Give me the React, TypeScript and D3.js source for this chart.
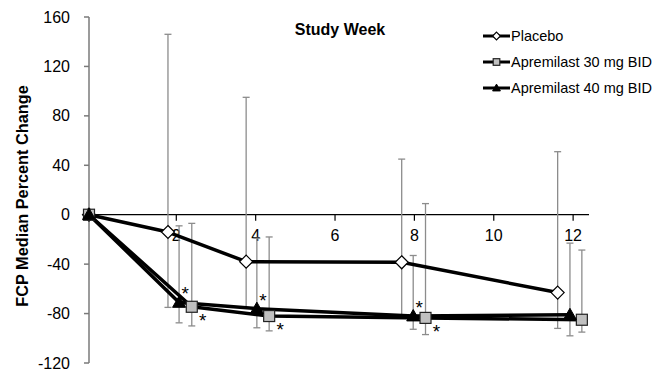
import React from "react";
import * as d3 from "d3";

// Study weeks (slightly offset per arm so error bars don't overlap)
const placeboWeeks = [-0.2, 1.79, 3.76, 7.68, 11.61];
const placeboMedian = [0, -14, -38, -38.5, -63];
const placeboLow: (number | null)[] = [null, -75, -75, -82, -92];
const placeboHigh: (number | null)[] = [null, 146, 95, 45, 51];

const apr30Weeks = [-0.2, 2.39, 4.34, 8.28, 12.22];
const apr30Median = [0, -74.5, -82, -83.5, -85];
const apr30Low: (number | null)[] = [null, -90, -94, -97, -95];
const apr30High: (number | null)[] = [null, -7, -18, 9, -28.6];
const apr30Sig = [false, true, true, true, false];

const apr40Weeks = [-0.2, 2.07, 4.03, 7.97, 11.92];
const apr40Median = [0, -71, -76, -82, -81];
const apr40Low: (number | null)[] = [null, -87.5, -91.5, -92.7, -98];
const apr40High: (number | null)[] = [null, -9, -19, -33, -23];
const apr40Sig = [false, true, true, true, false];

const xTicks = [2, 4, 6, 8, 10, 12];
const yTicks = [160, 120, 80, 40, 0, -40, -80, -120];

const legendLabels = ["Placebo", "Apremilast 30 mg BID", "Apremilast 40 mg BID"];

const FONT = "'Liberation Sans', Arial, sans-serif";

type Series = {
  name: string;
  weeks: number[];
  median: number[];
  low: (number | null)[];
  high: (number | null)[];
  sig: boolean[] | null;
  marker: "diamond" | "square" | "triangle";
  sigDx: number;
  sigDy: number;
};

const series: Series[] = [
  { name: legendLabels[0], weeks: placeboWeeks, median: placeboMedian, low: placeboLow, high: placeboHigh, sig: null, marker: "diamond", sigDx: 0, sigDy: 0 },
  { name: legendLabels[1], weeks: apr30Weeks, median: apr30Median, low: apr30Low, high: apr30High, sig: apr30Sig, marker: "square", sigDx: 11, sigDy: 11 },
  { name: legendLabels[2], weeks: apr40Weeks, median: apr40Median, low: apr40Low, high: apr40High, sig: apr40Sig, marker: "triangle", sigDx: 6, sigDy: -11 },
];

function Marker({ kind, cx, cy, scale = 1 }: { kind: string; cx: number; cy: number; scale?: number }) {
  if (kind === "diamond") {
    const r = 6.5 * scale;
    return (
      <path
        d={`M${cx},${cy - r}L${cx + r},${cy}L${cx},${cy + r}L${cx - r},${cy}Z`}
        fill="#fff"
        stroke="#000"
        strokeWidth={1.2}
      />
    );
  }
  if (kind === "square") {
    const h = 5.5 * scale;
    return <rect x={cx - h} y={cy - h} width={2 * h} height={2 * h} fill="#c0c0c0" stroke="#222" strokeWidth={1.2} />;
  }
  const s = 6.5 * scale;
  return (
    <path d={`M${cx},${cy - s}L${cx + s},${cy + s * 0.75}L${cx - s},${cy + s * 0.75}Z`} fill="#000" stroke="#000" strokeWidth={1} />
  );
}

export default function App() {
  const width = 665;
  const height = 371;
  const x = d3.scaleLinear().domain([-0.2, 12.4]).range([89, 589]);
  const y = d3.scaleLinear().domain([-120, 160]).range([363, 17]);
  const line = d3
    .line<[number, number]>()
    .x((d) => x(d[0]))
    .y((d) => y(d[1]));

  return (
    <svg width={width} height={height} style={{ position: "absolute", left: 0, top: 0, background: "#fff" }} fontFamily={FONT}>
      {/* y axis */}
      <line x1={x(-0.2)} x2={x(-0.2)} y1={y(160)} y2={y(-120)} stroke="#7a7a7a" strokeWidth={1.5} />
      {yTicks.map((t) => (
        <g key={t}>
          <line x1={x(-0.2) - 5} x2={x(-0.2)} y1={y(t)} y2={y(t)} stroke="#7a7a7a" strokeWidth={1.5} />
          <text x={x(-0.2) - 19} y={y(t)} dy="0.35em" textAnchor="end" fontSize={16} fill="#000">
            {t}
          </text>
        </g>
      ))}
      <text
        transform={`translate(22,${(y(160) + y(-120)) / 2 + 6}) rotate(-90)`}
        textAnchor="middle"
        dy="0.35em"
        fontSize={16.3}
        fontWeight="bold"
      >
        FCP Median Percent Change
      </text>

      {/* x axis along zero */}
      <line x1={x(-0.2)} x2={x(12.4)} y1={y(0)} y2={y(0)} stroke="#000" strokeWidth={1.2} />
      {xTicks.map((t) => (
        <g key={t}>
          <line x1={x(t)} x2={x(t)} y1={y(0)} y2={y(0) + 6} stroke="#000" strokeWidth={1.2} />
          <text x={x(t)} y={y(0) + 21} dy="0.35em" textAnchor="middle" fontSize={16}>
            {t}
          </text>
        </g>
      ))}
      <text x={340} y={29} dy="0.35em" textAnchor="middle" fontSize={16} fontWeight="bold">
        Study Week
      </text>

      {/* error bars */}
      {series.map((s) =>
        s.weeks.map((w, i) => {
          const lo = s.low[i];
          const hi = s.high[i];
          if (lo == null || hi == null) return null;
          const cx = x(w);
          return (
            <g key={s.name + i} stroke="#8c8c8c" strokeWidth={1.3}>
              <line x1={cx} x2={cx} y1={y(lo)} y2={y(hi)} />
              <line x1={cx - 3.5} x2={cx + 3.5} y1={y(lo)} y2={y(lo)} />
              <line x1={cx - 3.5} x2={cx + 3.5} y1={y(hi)} y2={y(hi)} />
            </g>
          );
        })
      )}

      {/* median lines */}
      {series.map((s) => (
        <path
          key={s.name}
          d={line(s.weeks.map((w, i) => [w, s.median[i]] as [number, number])) || ""}
          fill="none"
          stroke="#000"
          strokeWidth={3.5}
          strokeLinejoin="round"
        />
      ))}

      {/* markers */}
      {series.map((s) =>
        s.weeks.map((w, i) => <Marker key={s.name + "m" + i} kind={s.marker} cx={x(w)} cy={y(s.median[i])} />)
      )}

      {/* significance flags */}
      {series.map((s) =>
        s.sig
          ? s.weeks.map((w, i) =>
              s.sig![i] ? (
                <text
                  key={s.name + "s" + i}
                  x={x(w) + s.sigDx}
                  y={y(s.median[i]) + s.sigDy + 9}
                  textAnchor="middle"
                  fontSize={19}
                >
                  *
                </text>
              ) : null
            )
          : null
      )}

      {/* legend */}
      {legendLabels.map((lab, i) => {
        const ly = 36 + i * 26;
        return (
          <g key={lab}>
            <line x1={483} x2={510} y1={ly} y2={ly} stroke="#000" strokeWidth={3} />
            <Marker kind={series[i].marker} cx={496.5} cy={ly} scale={0.6} />
            <text x={511} y={ly} dy="0.35em" fontSize={14.5}>
              {lab}
            </text>
          </g>
        );
      })}
    </svg>
  );
}
